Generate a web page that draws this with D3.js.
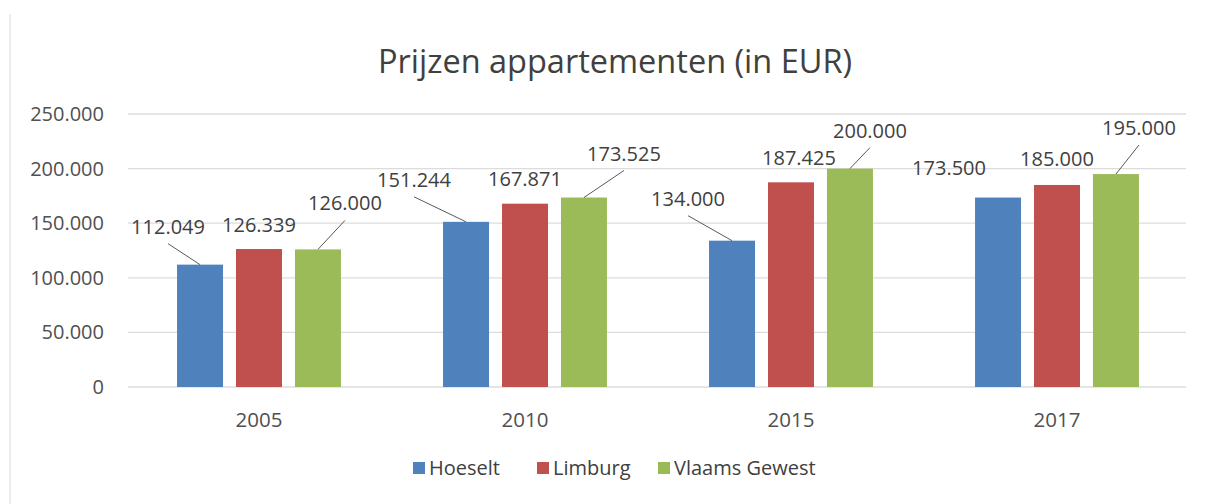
<!DOCTYPE html>
<html>
<head>
<meta charset="utf-8">
<script src="https://cdn.jsdelivr.net/npm/d3@7"></script>
<style>
  body { margin: 0; background: #fff; }
  text { font-family: "Open Sans", sans-serif; }
</style>
</head>
<body>
<svg id="chart" width="1206" height="504"></svg>
<script>
// data
var years = ["2005", "2010", "2015", "2017"];
var series = ["Hoeselt", "Limburg", "Vlaams Gewest"];
var hoeselt = [112049, 151244, 134000, 173500];
var limburg = [126339, 167871, 187425, 185000];
var vlaams = [126000, 173525, 200000, 195000];
var yTicks = [0, 50000, 100000, 150000, 200000, 250000];
var colors = ["#4f81bd", "#c0504d", "#9bbb59"];

// label placement relative to bar top [dx, dy, leader]
var labelPos = [
  [[-32, -38, 1], [0, -24, 0], [27, -46, 1]],
  [[-52, -42, 1], [0, -25, 0], [40, -44, 1]],
  [[-44, -42, 1], [8, -24, 0], [20, -38, 1]],
  [[-49, -30, 0], [0, -26, 0], [23, -46, 1]]
];

var values = [hoeselt, limburg, vlaams];

var nl = d3.formatLocale({decimal: ",", thousands: ".", grouping: [3], currency: ["€", ""]});
var fmt = nl.format(",d");

var svg = d3.select("#chart");

// faint frame
svg.append("line").attr("x1", 10).attr("x2", 10).attr("y1", 14).attr("y2", 504)
  .attr("stroke", "#ececec").attr("stroke-width", 2);

var x0 = d3.scaleBand().domain(years).range([126, 1190])
  .paddingInner(0.335).paddingOuter(0.1675);
var x1 = d3.scaleBand().domain(series).range([0, x0.bandwidth()])
  .paddingInner(0.22).paddingOuter(0.11);
var y = d3.scaleLinear().domain([0, 250000]).range([387, 114]);

// gridlines
svg.append("g").selectAll("line")
  .data(yTicks)
  .join("line")
  .attr("x1", 128).attr("x2", 1186)
  .attr("y1", d => y(d)).attr("y2", d => y(d))
  .attr("stroke", "#dcdcdc").attr("stroke-width", 1.3);

// y axis labels
svg.append("g").selectAll("text")
  .data(yTicks)
  .join("text")
  .attr("x", 104).attr("y", d => y(d))
  .attr("dy", "0.35em")
  .attr("text-anchor", "end")
  .attr("font-size", 20)
  .attr("fill", "#505050")
  .text(d => fmt(d));

// x axis labels
svg.append("g").selectAll("text")
  .data(years)
  .join("text")
  .attr("x", d => x0(d) + x0.bandwidth() / 2)
  .attr("y", 420).attr("dy", "0.35em")
  .attr("text-anchor", "middle")
  .attr("font-size", 20.5)
  .attr("fill", "#505050")
  .text(d => d);

// bars + labels
var rows = [];
years.forEach(function(yr, i) {
  series.forEach(function(s, j) {
    rows.push({year: yr, series: s, j: j, value: values[j][i], pos: labelPos[i][j]});
  });
});

svg.append("g").selectAll("rect")
  .data(rows)
  .join("rect")
  .attr("x", d => x0(d.year) + x1(d.series))
  .attr("y", d => y(d.value))
  .attr("width", x1.bandwidth())
  .attr("height", d => y(0) - y(d.value))
  .attr("fill", d => colors[d.j]);

var cx = d => x0(d.year) + x1(d.series) + x1.bandwidth() / 2;

svg.append("g").selectAll("line")
  .data(rows.filter(d => d.pos[2]))
  .join("line")
  .attr("x1", d => cx(d) + d.pos[0])
  .attr("y1", d => y(d.value) + d.pos[1] + 17)
  .attr("x2", d => cx(d))
  .attr("y2", d => y(d.value))
  .attr("stroke", "#595959").attr("stroke-width", 1);

svg.append("g").selectAll("text")
  .data(rows)
  .join("text")
  .attr("x", d => cx(d) + d.pos[0])
  .attr("y", d => y(d.value) + d.pos[1])
  .attr("dy", "0.35em")
  .attr("text-anchor", "middle")
  .attr("font-size", 20)
  .attr("fill", "#404040")
  .text(d => fmt(d.value));

// title
svg.append("text")
  .attr("x", 615).attr("y", 62).attr("dy", "0.35em")
  .attr("text-anchor", "middle")
  .attr("font-size", 32.5)
  .attr("fill", "#404040")
  .text("Prijzen appartementen (in EUR)");

// legend
var legendX = [413, 537, 658];
var legend = svg.append("g").selectAll("g")
  .data(series)
  .join("g")
  .attr("transform", (d, i) => "translate(" + legendX[i] + ",468)");
legend.append("rect")
  .attr("x", 0).attr("y", -6).attr("width", 12).attr("height", 12)
  .attr("fill", (d, i) => colors[i]);
legend.append("text")
  .attr("x", 16).attr("y", 0).attr("dy", "0.35em")
  .attr("font-size", 20)
  .attr("fill", "#404040")
  .text(d => d);
</script>
</body>
</html>
